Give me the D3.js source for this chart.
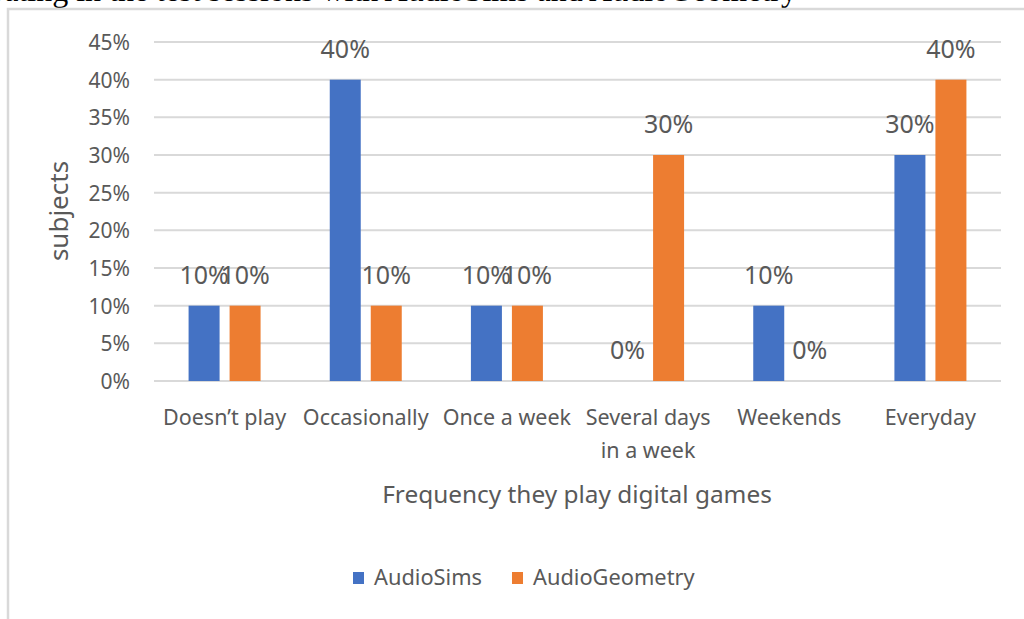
<!DOCTYPE html>
<html>
<head>
<meta charset="utf-8">
<script src="https://cdn.jsdelivr.net/npm/d3@7"></script>
<style>
  html, body { margin: 0; padding: 0; background: #fff; overflow: hidden; }
  svg { display: block; }
  text { font-family: "Noto Sans", "Open Sans", sans-serif; fill: #595959; }
</style>
</head>
<body>
<svg id="chart" width="1024" height="619"></svg>
<script>
// Survey data: how often participants play digital games
const categories = ["Doesn\u2019t play", "Occasionally", "Once a week", "Several days\nin a week", "Weekends", "Everyday"];
const seriesNames = ["AudioSims", "AudioGeometry"];
const audioSims = [0.10, 0.40, 0.10, 0.00, 0.10, 0.30];
const audioGeometry = [0.10, 0.10, 0.10, 0.30, 0.00, 0.40];
const yTicks = [0, 0.05, 0.10, 0.15, 0.20, 0.25, 0.30, 0.35, 0.40, 0.45];
const colors = ["#4472C4", "#ED7D31"];

const series = [audioSims, audioGeometry];
const svg = d3.select("#chart");

// Caption of the surrounding document, cut by the top edge
svg.append("text")
  .attr("x", 797).attr("y", 1)
  .attr("text-anchor", "end")
  .style("font-family", "'Liberation Serif', 'DejaVu Serif', serif")
  .style("font-size", "32px")
  .style("fill", "#000")
  .text("participating in the test sessions with AudioSims and AudioGeometry");

// Chart frame
svg.append("rect")
  .attr("x", 8).attr("y", 9)
  .attr("width", 1040).attr("height", 640)
  .attr("fill", "none")
  .attr("stroke", "#D9D9D9")
  .attr("stroke-width", 2.5);

const plot = { left: 154, right: 1001, top: 42, bottom: 381 };

const x0 = d3.scaleBand()
  .domain(d3.range(categories.length))
  .range([plot.left, plot.right])
  .padding(0);

const groupWidth = 72;
const x1 = d3.scaleBand()
  .domain(d3.range(seriesNames.length))
  .range([0, groupWidth])
  .paddingInner(0.244)
  .paddingOuter(0);

const y = d3.scaleLinear()
  .domain([0, 0.45])
  .range([plot.bottom, plot.top]);

const pct = d3.format(".0%");

// Horizontal gridlines
svg.append("g")
  .selectAll("line")
  .data(yTicks)
  .join("line")
  .attr("x1", plot.left).attr("x2", plot.right)
  .attr("y1", d => y(d)).attr("y2", d => y(d))
  .attr("stroke", "#D9D9D9")
  .attr("stroke-width", 2);

// Y axis tick labels
const yAxis = d3.axisLeft(y).tickValues(yTicks).tickFormat(pct).tickSize(0).tickPadding(0);
const yg = svg.append("g")
  .attr("transform", `translate(130,0)`)
  .call(yAxis);
yg.select(".domain").remove();
yg.selectAll("text")
  .attr("x", 0)
  .attr("dy", "0.36em")
  .style("font-family", "'Noto Sans', sans-serif")
  .style("font-size", "21px")
  .attr("fill", "#595959");

// Bars
const groups = svg.append("g")
  .selectAll("g")
  .data(categories.map((c, i) => i))
  .join("g")
  .attr("transform", i => `translate(${x0(i) + (x0.bandwidth() - groupWidth) / 2},0)`);

groups.selectAll("rect")
  .data(i => series.map((s, k) => ({ k, v: s[i] })))
  .join("rect")
  .attr("x", d => x1(d.k))
  .attr("width", x1.bandwidth())
  .attr("y", d => y(d.v))
  .attr("height", d => y(0) - y(d.v))
  .attr("fill", d => colors[d.k]);

// Value labels
groups.selectAll("text.value")
  .data(i => series.map((s, k) => ({ k, v: s[i] })))
  .join("text")
  .attr("class", "value")
  .attr("x", d => x1(d.k) + x1.bandwidth() / 2)
  .attr("y", d => y(d.v) - 22)
  .attr("text-anchor", "middle")
  .style("font-size", "25px")
  .text(d => pct(d.v));

// Category labels
const xLabels = svg.append("g")
  .selectAll("text")
  .data(categories.map((c, i) => ({ c, i })))
  .join("text")
  .attr("x", d => x0(d.i) + x0.bandwidth() / 2)
  .attr("y", 425)
  .attr("text-anchor", "middle")
  .style("font-size", "21.5px");
xLabels.selectAll("tspan")
  .data(d => d.c.split("\n").map((t, j) => ({ t, j, x: x0(d.i) + x0.bandwidth() / 2 })))
  .join("tspan")
  .attr("x", d => d.x)
  .attr("dy", d => d.j === 0 ? 0 : 33)
  .text(d => d.t);

// Axis titles
svg.append("text")
  .attr("x", 577)
  .attr("y", 503)
  .attr("text-anchor", "middle")
  .style("font-size", "24.4px")
  .text("Frequency they play digital games");

svg.append("text")
  .attr("transform", `translate(68,211) rotate(-90)`)
  .attr("text-anchor", "middle")
  .style("font-size", "26px")
  .text("subjects");

// Legend
const legendPos = [353, 512];
const legend = svg.append("g")
  .selectAll("g")
  .data(seriesNames.map((n, k) => ({ n, k })))
  .join("g")
  .attr("transform", d => `translate(${legendPos[d.k]},0)`);
legend.append("rect")
  .attr("x", 0).attr("y", 572)
  .attr("width", 11).attr("height", 12)
  .attr("fill", d => colors[d.k]);
legend.append("text")
  .attr("x", 21).attr("y", 585)
  .style("font-size", "21.8px")
  .text(d => d.n);
</script>
</body>
</html>
